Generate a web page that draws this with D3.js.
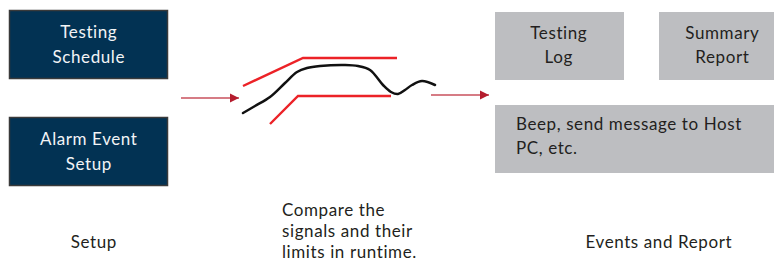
<!DOCTYPE html>
<html><head><meta charset="utf-8">
<script src="https://cdn.jsdelivr.net/npm/d3@7"></script>
<style>body{margin:0;background:#fff;} svg{display:block;} text{letter-spacing:0.6px;}</style>
</head><body>
<svg id="c" width="774" height="262"></svg>
<script>
// Diagram content
const setupBoxes = [["Testing", "Schedule"], ["Alarm Event", "Setup"]];
const reportBoxes = [["Testing", "Log"], ["Summary", "Report"]];
const eventBox = ["Beep, send message to Host", "PC, etc."];
const captions = [["Setup"], ["Compare the", "signals and their", "limits in runtime."], ["Events and Report"]];
// signal and limits (x = time, y = level)
const signal = [[3,17],[15,24],[30,33],[45,47],[57,58],[67,62],[80,64],[105,65],[118,64],[130,60],[143,45],[151,38],[158,36],[165,40],[172,45],[182,49],[195,45]];
const upperLimit = [[3,44],[63,72],[157,72]];
const lowerLimit = [[30,6],[58,34],[151,34]];

const svg = d3.select("#c");
const font = "Lato, 'Open Sans', sans-serif";
const fs = 17;

// scales mapping signal space to pixels
const sx = d3.scaleLinear().domain([0,200]).range([240,440]);
const sy = d3.scaleLinear().domain([0,100]).range([130,30]);

// Left dark boxes
const darkY = [10,117];
setupBoxes.forEach((lines,i)=>{
  const g = svg.append("g");
  g.append("rect").attr("x",9.5).attr("y",darkY[i]+0.5).attr("width",158).attr("height",68)
    .attr("fill","#023253").attr("stroke","#3a3a3a").attr("stroke-width",1.5);
  lines.forEach((t,j)=>{
    g.append("text").attr("x",88.8).attr("y",darkY[i]+28+j*24.5).attr("text-anchor","middle")
      .attr("fill","#f2f4f6").attr("font-family",font).attr("font-size",fs).text(t);
  });
});

// Arrows
const defs = svg.append("defs");
defs.append("marker").attr("id","ah").attr("viewBox","0 0 10 10").attr("refX",10).attr("refY",5)
  .attr("markerWidth",9).attr("markerHeight",10).attr("markerUnits","userSpaceOnUse").attr("orient","auto")
  .append("path").attr("d","M0,0L10,5L0,10Z").attr("fill","#b51d2e");
[[181,98,239,98],[431,95,489,95]].forEach(a=>{
  svg.append("line").attr("x1",a[0]).attr("y1",a[1]).attr("x2",a[2]).attr("y2",a[3])
    .attr("stroke","#c9505c").attr("stroke-width",1.6).attr("marker-end","url(#ah)");
});

// limits and signal
const lin = d3.line().x(d=>sx(d[0])).y(d=>sy(d[1]));
[upperLimit, lowerLimit].forEach(l=>{
  svg.append("path").attr("d",lin(l)).attr("fill","none").attr("stroke","#ec2227").attr("stroke-width",2.4);
});
svg.append("path").attr("d",lin.curve(d3.curveCatmullRom.alpha(0.5))(signal)).attr("fill","none")
  .attr("stroke","#111").attr("stroke-width",2.5).attr("stroke-linecap","round");

// Right gray boxes
const grayX = [495,659];
reportBoxes.forEach((lines,i)=>{
  const g = svg.append("g");
  g.append("rect").attr("x",grayX[i]).attr("y",12).attr("width",i===0?129:115).attr("height",68).attr("fill","#bdbec1");
  const cx = i===0 ? 558.8 : 722.3;
  lines.forEach((t,j)=>{
    g.append("text").attr("x",cx).attr("y",39+j*24).attr("text-anchor","middle")
      .attr("fill","#231f20").attr("font-family",font).attr("font-size",fs).text(t);
  });
});
svg.append("rect").attr("x",495).attr("y",105).attr("width",279).attr("height",68).attr("fill","#bdbec1");
eventBox.forEach((t,j)=>{
  svg.append("text").attr("x",516).attr("y",130+j*23.5).attr("fill","#231f20")
    .attr("font-family",font).attr("font-size",fs).text(t);
});

// captions
svg.append("text").attr("x",93.8).attr("y",248).attr("text-anchor","middle").attr("fill","#231f20")
  .attr("font-family",font).attr("font-size",fs).text(captions[0][0]);
captions[1].forEach((t,j)=>{
  svg.append("text").attr("x",282).attr("y",216+j*21).attr("fill","#231f20")
    .attr("font-family",font).attr("font-size",fs).text(t);
});
svg.append("text").attr("x",658.8).attr("y",248).attr("text-anchor","middle").attr("fill","#231f20")
  .attr("font-family",font).attr("font-size",fs).text(captions[2][0]);
</script>
</body></html>
